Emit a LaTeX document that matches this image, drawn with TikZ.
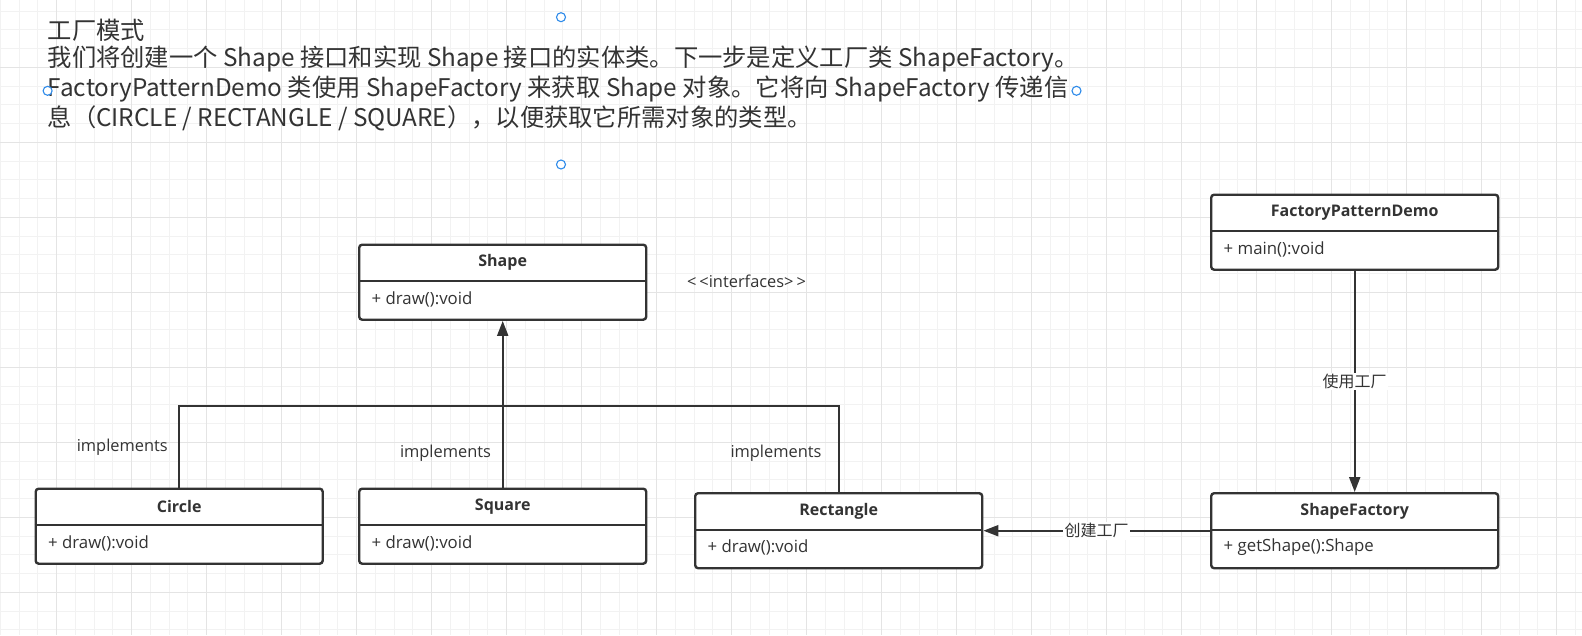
\documentclass[tikz,border=0pt]{standalone}
\usepackage{fontspec}
\setmainfont{Open Sans}
\newfontfamily\cjk{Noto Sans CJK SC}
\usetikzlibrary{arrows.meta}
\definecolor{umlink}{HTML}{333333}
\definecolor{gridminor}{HTML}{F2F2F2}
\definecolor{gridmajor}{HTML}{E4E4E4}
\definecolor{handleblue}{HTML}{2E8BEA}

\begin{document}
\begin{tikzpicture}[
  x=1pt,
  y=-1pt,
  every node/.style={text=umlink, inner sep=1pt},
  minorline/.style={gridminor, line width=1pt},
  majorline/.style={gridmajor, line width=1pt},
  classbox/.style={draw=umlink, fill=white, line width=2.4pt, rounded corners=3pt,
    minimum width=287pt, minimum height=75pt, anchor=north west},
  classtitle/.style={font=\fontsize{16}{19}\selectfont\bfseries},
  member/.style={font=\fontsize{16.8}{20}\selectfont, anchor=west},
  divider/.style={umlink, line width=2pt},
  link/.style={umlink, line width=2pt},
  realize/.style={link, -{Triangle[length=15pt, width=11pt]}},
  tag/.style={font=\fontsize{16.4}{19}\selectfont},
  flowtag/.style={font=\cjk\fontsize{16}{19}\selectfont, fill=white, inner sep=1.5pt},
  para/.style={font=\cjk\fontsize{24.3}{29}\selectfont, anchor=west, inner sep=0pt},
  handle/.style={draw=handleblue, fill=white, line width=1.1pt, circle,
    minimum size=9pt, inner sep=0pt}
]
  \useasboundingbox (0,0) rectangle (1582,635);
  \fill[white] (0,0) rectangle (1582,635);

  % ---- the page grid ---------------------------------------------------
  \foreach \i in {0,...,84} \draw[minorline] ({0.45+18.75*\i},0) -- ++(0,635);
  \foreach \i in {0,...,33} \draw[minorline] (0,{11.05+18.75*\i}) -- ++(1582,0);
  \foreach \i in {0,...,20} \draw[majorline] ({56.7+75*\i},0) -- ++(0,635);
  \foreach \i in {1,...,8} \draw[majorline] (0,{-7.7+75*\i}) -- ++(1582,0);

  % ---- the note at the top ---------------------------------------------
  \node[para] (note-head) at (47.5,30.5) {工厂模式};
  \node[para] (note-a) at (47.5,59.5)
    {我们将创建一个 Shape 接口和实现 Shape 接口的实体类。下一步是定义工厂类 ShapeFactory。};
  \node[para] (note-b) at (47.5,88.8)
    {FactoryPatternDemo 类使用 ShapeFactory 来获取 Shape 对象。它将向 ShapeFactory 传递信};
  \node[para] (note-c) at (47.5,118)
    {息（CIRCLE / RECTANGLE / SQUARE），以便获取它所需对象的类型。};

  % the selection handles of the note
  \node[handle] (grip-n) at (561,17.2) {};
  \node[handle] (grip-w) at (47.6,90.8) {};
  \node[handle] (grip-e) at (1076.5,90.8) {};
  \node[handle] (grip-s) at (561,164.5) {};

  % ---- the classes -----------------------------------------------------
  \foreach \nm/\px/\py/\ttl/\mem in {
      shape/358/243.5/Shape/{+ draw():void},
      circ/34.5/487.5/Circle/{+ draw():void},
      square/358/487.5/Square/{+ draw():void},
      rect/694/492/Rectangle/{+ draw():void},
      demo/1210/193.5/FactoryPatternDemo/{+ main():void},
      factory/1210/492/ShapeFactory/{+ getShape():Shape}}
  {
    \node[classbox] (\nm) at (\px,\py) {};
    \node[classtitle] (\nm-title) at ([yshift=-19pt]\nm.north) {\ttl};
    \draw[divider] ([yshift=-37.5pt]\nm.north west) -- ([yshift=-37.5pt]\nm.north east);
    \node[member] (\nm-member) at ([xshift=12.5pt, yshift=-55.5pt]\nm.north west) {\mem};
  }
  \node[tag] (stereo) at (746.5,281.5) {<\kern3pt<interfaces>\kern3pt>};

  % ---- realisations of Shape -------------------------------------------
  \coordinate (bus) at (501.5,405.7);
  \draw[link] (circ.north) |- (bus) -| (rect.north);
  \draw[realize] (square.north) -- (shape.south);
  \node[tag] (impl-circ) at (122.3,447) {implements};
  \node[tag] (impl-square) at (445.5,453) {implements};
  \node[tag] (impl-rect) at (776,453) {implements};

  % ---- the factory -----------------------------------------------------
  \draw[realize] (demo.south) -- node[flowtag] (use-tag) {使用工厂} (factory.north);
  \draw[realize] (factory.west) -- node[flowtag] (make-tag) {创建工厂} (rect.east);
\end{tikzpicture}
\end{document}
